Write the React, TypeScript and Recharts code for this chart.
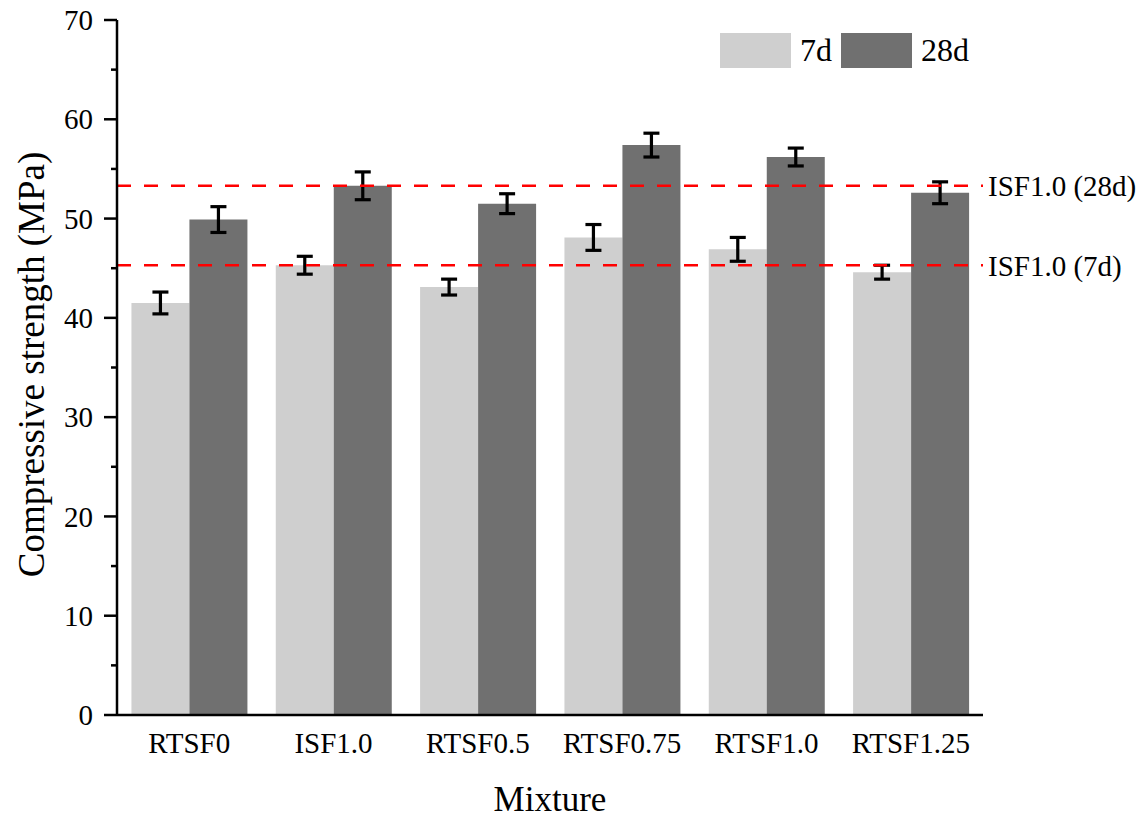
import { Bar, BarChart, ErrorBar, ReferenceLine, XAxis, YAxis } from "recharts";

const mixtures = ["RTSF0", "ISF1.0", "RTSF0.5", "RTSF0.75", "RTSF1.0", "RTSF1.25"];
const strength7d = [41.5, 45.3, 43.1, 48.1, 46.9, 44.6];
const error7d = [1.1, 0.9, 0.8, 1.3, 1.2, 0.7];
const strength28d = [49.9, 53.3, 51.5, 57.4, 56.2, 52.6];
const error28d = [1.3, 1.4, 1.0, 1.2, 0.9, 1.1];
const yTicks = [0, 5, 10, 15, 20, 25, 30, 35, 40, 45, 50, 55, 60, 65, 70];

const seriesNames = ["7d", "28d"];
const seriesColors = ["#cfcfcf", "#707070"];

const FONT = "Liberation Serif";
const serif = { fontFamily: FONT };

const data = mixtures.map((name, i) => ({
  name,
  d7: strength7d[i],
  e7: error7d[i],
  d28: strength28d[i],
  e28: error28d[i],
}));

function YTick(props: any) {
  const { x, y, payload } = props;
  const major = payload.value % 10 === 0;
  return (
    <g>
      <line x1={x - (major ? 13 : 6)} x2={x} y1={y} y2={y} stroke="#000" strokeWidth={2.5} />
      {major && (
        <text x={x - 24} y={y} dy="0.35em" textAnchor="end" fontSize={29} style={serif} fill="#000">
          {payload.value}
        </text>
      )}
    </g>
  );
}

function YTitle({ viewBox }: any) {
  const cx = 31;
  const cy = viewBox.y + viewBox.height / 2 - 3;
  return (
    <text
      x={cx}
      y={cy}
      dy="0.35em"
      textAnchor="middle"
      transform={`rotate(-90 ${cx} ${cy})`}
      fontSize={37}
      style={serif}
      fill="#000"
    >
      Compressive strength (MPa)
    </text>
  );
}

function XTitle({ viewBox }: any) {
  return (
    <text x={viewBox.x + viewBox.width / 2} y={viewBox.y + 96} textAnchor="middle" fontSize={35} style={serif} fill="#000">
      Mixture
    </text>
  );
}

export default function App() {
  return (
    <div style={{ position: "absolute", left: 0, top: 0, width: 1142, height: 818, background: "#fff", fontFamily: FONT }}>
      <BarChart
        width={1142}
        height={818}
        data={data}
        margin={{ top: 20, right: 159, left: 0, bottom: 13 }}
        barCategoryGap="10%"
        barGap={0}
        style={serif}
      >
        <XAxis
          dataKey="name"
          height={90}
          interval={0}
          tickLine={false}
          tickSize={0}
          tickMargin={17}
          axisLine={{ stroke: "#000", strokeWidth: 2.5 }}
          tick={{ fill: "#000", fontSize: 29, style: serif }}
          label={<XTitle />}
        />
        <XAxis xAxisId="top" dataKey="name" orientation="top" height={0} tick={false} tickLine={false} axisLine={{ stroke: "#000", strokeWidth: 2.5 }} />
        <YAxis
          width={117}
          domain={[0, 70]}
          ticks={yTicks}
          interval={0}
          tickLine={false}
          tickSize={0}
          tickMargin={0}
          axisLine={{ stroke: "#000", strokeWidth: 2.5 }}
          tick={<YTick />}
          label={<YTitle />}
        />
        <YAxis yAxisId="right" orientation="right" width={0} domain={[0, 70]} tick={false} tickLine={false} axisLine={{ stroke: "#000", strokeWidth: 2.5 }} />
        <Bar dataKey="d7" name={seriesNames[0]} fill={seriesColors[0]} isAnimationActive={false}>
          <ErrorBar dataKey="e7" width={8} stroke="#000" strokeWidth={3.2} isAnimationActive={false} />
        </Bar>
        <Bar dataKey="d28" name={seriesNames[1]} fill={seriesColors[1]} isAnimationActive={false}>
          <ErrorBar dataKey="e28" width={8} stroke="#000" strokeWidth={3.2} isAnimationActive={false} />
        </Bar>
        <ReferenceLine
          y={strength28d[1]}
          stroke="#ff0000"
          strokeWidth={2.5}
          strokeDasharray="14 13"
          label={{ value: "ISF1.0 (28d)", position: "right", fill: "#000", fontSize: 29, style: serif }}
        />
        <ReferenceLine
          y={strength7d[1]}
          stroke="#ff0000"
          strokeWidth={2.5}
          strokeDasharray="14 13"
          label={{ value: "ISF1.0 (7d)", position: "right", fill: "#000", fontSize: 29, style: serif }}
        />
      </BarChart>
      <div style={{ position: "absolute", left: 720, top: 33, display: "flex", alignItems: "center", fontSize: 32, lineHeight: "35px" }}>
        {seriesNames.map((s, i) => (
          <div key={s} style={{ display: "flex", alignItems: "center" }}>
            <div style={{ width: 71, height: 35, background: seriesColors[i] }} />
            <span style={{ marginLeft: 9, marginRight: 9 }}>{s}</span>
          </div>
        ))}
      </div>
    </div>
  );
}
